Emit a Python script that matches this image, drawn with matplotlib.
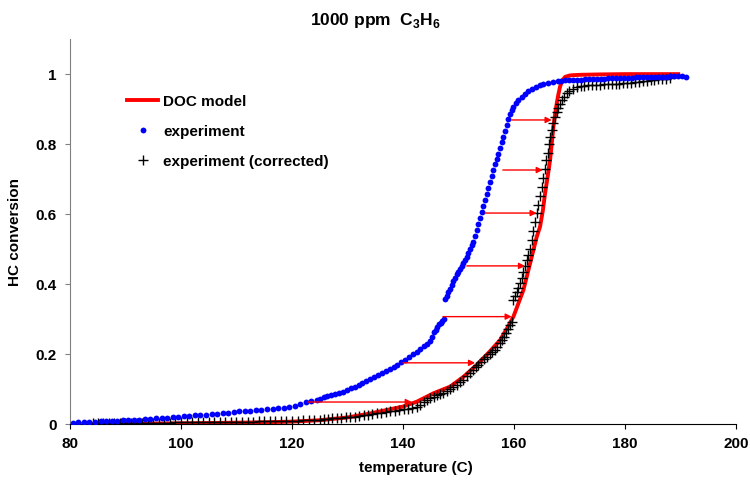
import matplotlib
matplotlib.use("Agg")
import matplotlib.pyplot as plt
from matplotlib.lines import Line2D

plt.rcParams['font.family'] = ['Liberation Sans', 'DejaVu Sans']
plt.rcParams['font.weight'] = 'bold'
plt.rcParams['mathtext.fontset'] = 'custom'
plt.rcParams['mathtext.rm'] = 'Liberation Sans:bold'
plt.rcParams['mathtext.bf'] = 'Liberation Sans:bold'

# DOC model
model_T = [80, 90, 100, 110, 115, 120, 125, 130, 134, 137, 140, 142.5, 145.5,
           148.5, 150.9, 153.3, 155.5, 157.5, 158.8, 159.9, 160.8, 161.7, 162.6,
           163.5, 164.1, 164.7, 165.2, 165.6, 166.1, 166.5, 166.8, 167.1, 167.4,
           167.7, 168.0, 168.3, 168.7, 169.2, 170.0, 170.7, 172, 175, 180, 185, 189.6]
model_x = [0.0, 0.001, 0.002, 0.004, 0.005, 0.007, 0.011, 0.019, 0.030, 0.040,
           0.050, 0.064, 0.088, 0.107, 0.135, 0.169, 0.205, 0.240, 0.275, 0.307,
           0.345, 0.383, 0.440, 0.497, 0.535, 0.564, 0.610, 0.659, 0.710, 0.754,
           0.800, 0.849, 0.885, 0.916, 0.942, 0.964, 0.982, 0.992, 0.996, 0.997,
           0.998, 0.999, 1.0, 1.0, 1.0]

# measured conversion
exp_T = [80.5, 81.5, 82.5, 83.5, 84.5, 85.5, 86.5, 87.5, 88.5, 89.5, 90.5, 91.5,
         92.5, 93.5, 94.5, 95.5, 96.5, 97.5, 98.5, 99.5, 100.5, 101.5, 102.5, 103.5,
         104.5, 105.5, 106.5, 107.5, 108.5, 109.5, 110.5, 111.5, 112.5, 113.5, 114.5,
         115.5, 116.5, 117.5, 118.5, 119.5, 120.5, 121.5, 122.5, 123.5, 124.5,
         125.0, 125.7, 126.4, 127.1, 127.8, 128.5, 129.2, 129.9, 130.6, 131.3, 132.0,
         132.7, 133.4, 134.1, 134.8, 135.5, 136.2, 136.9, 137.6, 138.3, 139.0, 139.7,
         140.4, 141.1, 141.8, 142.5, 143.1, 143.7, 144.3, 144.9, 145.3, 145.6, 145.9,
         146.2, 146.5, 146.8, 147.1, 147.4,
         147.6, 147.9, 148.2, 148.5, 148.8, 149.1, 149.4, 149.7, 150.0, 150.3, 150.6,
         150.9, 151.2, 151.5, 151.8, 152.1, 152.4, 152.7, 153.0, 153.3, 153.6, 153.9,
         154.2, 154.5, 154.8, 155.1, 155.4, 155.7, 156.0, 156.3, 156.6, 156.9, 157.2,
         157.5, 157.8, 158.1, 158.4, 158.7, 159.0, 159.3, 159.6, 159.9, 160.3, 160.8,
         161.4, 162.0, 162.6, 163.2, 163.9, 164.6, 165.3, 166.2, 167.1, 168.0,
         168.5, 169.2, 170.0, 170.7, 171.4, 172.1, 172.8, 173.5, 174.2, 174.9, 175.6,
         176.3, 177.0, 177.7, 178.4, 179.1, 179.8, 180.5, 181.2, 181.9, 182.6, 183.3,
         184.0, 184.7, 185.4, 186.1, 186.8, 187.5, 188.2, 188.9, 189.6, 190.3, 191.0]
exp_x = [0.004, 0.005, 0.005, 0.006, 0.007, 0.008, 0.008, 0.009, 0.010, 0.011, 0.011,
         0.012, 0.013, 0.014, 0.015, 0.016, 0.017, 0.018, 0.019, 0.021, 0.022, 0.023,
         0.025, 0.026, 0.027, 0.029, 0.030, 0.031, 0.033, 0.034, 0.036, 0.037, 0.038,
         0.039, 0.041, 0.042, 0.044, 0.045, 0.047, 0.049, 0.052, 0.057, 0.062, 0.066,
         0.069,
         0.072, 0.076, 0.079, 0.082, 0.085, 0.088, 0.093, 0.097, 0.102, 0.107, 0.113,
         0.118, 0.124, 0.129, 0.135, 0.141, 0.146, 0.152, 0.158, 0.163, 0.170, 0.176,
         0.183, 0.192, 0.200, 0.207, 0.215, 0.222, 0.228, 0.236, 0.250, 0.262, 0.270,
         0.278, 0.285, 0.290, 0.295, 0.300,
         0.356, 0.366, 0.377, 0.387, 0.397, 0.408, 0.418, 0.428, 0.435, 0.442, 0.452,
         0.461, 0.469, 0.478, 0.490, 0.500, 0.511, 0.521, 0.538, 0.555, 0.572, 0.588,
         0.605, 0.622, 0.640, 0.658, 0.676, 0.692, 0.710, 0.726, 0.742, 0.757, 0.773,
         0.789, 0.805, 0.821, 0.838, 0.856, 0.872, 0.887, 0.898, 0.907, 0.917, 0.926,
         0.935, 0.943, 0.951, 0.958, 0.964, 0.969, 0.973, 0.976, 0.978, 0.980,
         0.981, 0.982, 0.983, 0.983, 0.984, 0.984, 0.985, 0.985, 0.986, 0.986, 0.987,
         0.987, 0.988, 0.988, 0.989, 0.989, 0.990, 0.990, 0.990, 0.991, 0.991, 0.991,
         0.992, 0.992, 0.992, 0.993, 0.993, 0.993, 0.994, 0.994, 0.994, 0.994, 0.993]

# measured conversion, corrected temperature
cor_T = [84.2, 85, 86, 87, 88, 89, 90, 91, 92, 93, 94, 95, 96, 97, 98, 99, 100, 101,
         102, 103, 104, 105, 106, 107, 108, 109, 110, 111, 112, 113, 114, 115, 116,
         117, 118, 119, 120, 121, 122, 123, 124, 125,
         125.7, 126.5, 127.3, 128.1, 128.9, 129.7, 130.5, 131.3, 132.1, 132.9, 133.7,
         134.5, 135.3, 136.1, 136.9, 137.7, 138.5, 139.3, 140.1, 140.9, 141.7, 142.5,
         143.1, 143.7, 144.3, 144.9, 145.5, 146.1, 146.7, 147.3, 147.9, 148.5, 149.1,
         149.7, 150.3, 150.9, 151.5, 152.1, 152.6, 153.1, 153.6, 154.1, 154.6, 155.1,
         155.6, 156.1, 156.6, 157.0, 157.4, 157.8, 158.2, 158.6, 159.0, 159.3, 159.6,
         159.9, 160.2, 160.5, 160.8, 161.1, 161.4, 161.7, 162.0, 162.3, 162.6, 162.9,
         163.2, 163.5, 163.8, 164.1, 164.4, 164.7, 165.0, 165.3, 165.6, 165.8, 166.1,
         166.3, 166.5, 166.8, 167.1, 167.4, 167.7, 168.0, 168.3, 168.7, 169.1, 169.5,
         170.0, 170.6, 171.3,
         172, 172.7, 173.4, 174.1, 174.8, 175.5, 176.2, 176.9, 177.6, 178.3, 179.0,
         179.7, 180.4, 181.1, 181.8, 182.5, 183.2, 183.9, 184.6, 185.3, 186.0, 186.7,
         187.4, 188.1]
cor_x = [0.003, 0.003, 0.003, 0.003, 0.003, 0.003, 0.003, 0.003, 0.004, 0.004, 0.004,
         0.004, 0.004, 0.004, 0.004, 0.005, 0.005, 0.005, 0.005, 0.005, 0.005, 0.006,
         0.006, 0.006, 0.006, 0.006, 0.007, 0.007, 0.007, 0.007, 0.008, 0.008, 0.008,
         0.009, 0.009, 0.009, 0.010, 0.010, 0.011, 0.011, 0.012, 0.013,
         0.014, 0.015, 0.016, 0.017, 0.018, 0.019, 0.020, 0.021, 0.023, 0.025, 0.027,
         0.029, 0.031, 0.033, 0.035, 0.036, 0.038, 0.040, 0.042, 0.044, 0.046, 0.050,
         0.055, 0.062, 0.069, 0.074, 0.078, 0.082, 0.085, 0.088, 0.094, 0.100, 0.106,
         0.111, 0.119, 0.127, 0.136, 0.145, 0.154, 0.162, 0.169, 0.177, 0.186, 0.193,
         0.200, 0.206, 0.212, 0.220, 0.231, 0.241, 0.250, 0.259, 0.272, 0.283, 0.292,
         0.354, 0.366, 0.378, 0.390, 0.402, 0.418, 0.435, 0.452, 0.469, 0.484, 0.500,
         0.526, 0.551, 0.577, 0.602, 0.627, 0.652, 0.678, 0.703, 0.729, 0.754, 0.776,
         0.799, 0.821, 0.840, 0.859, 0.878, 0.891, 0.904, 0.916, 0.926, 0.936, 0.945,
         0.952, 0.958, 0.964,
         0.966, 0.967, 0.968, 0.969, 0.969, 0.970, 0.971, 0.971, 0.972, 0.973, 0.973,
         0.974, 0.975, 0.976, 0.977, 0.978, 0.979, 0.981, 0.982, 0.983, 0.985, 0.986,
         0.987, 0.988]

# temperature shift arrows (conversion level, from, to)
arrow_x = [0.063, 0.175, 0.307, 0.452, 0.603, 0.726, 0.869]
arrow_from = [122.9, 140.0, 147.2, 151.5, 154.8, 158.0, 159.6]
arrow_to = [141.6, 153.0, 159.6, 162.0, 164.1, 165.2, 166.8]

fig = plt.figure(figsize=(7.5, 4.83), dpi=100)
ax = fig.add_axes([0.0933, 0.122, 0.888, 0.797])

ax.plot(model_T, model_x, color='red', lw=2.8, zorder=2)
ax.plot(cor_T, cor_x, ls='none', marker='+', ms=7, mew=1.0, color='black', zorder=3)
ax.plot(exp_T, exp_x, ls='none', marker='o', ms=4.2, mew=0, color='#0000ff', zorder=4)

for v, t0, t1 in zip(arrow_x, arrow_from, arrow_to):
    ax.annotate('', xy=(t1, v), xytext=(t0, v),
                arrowprops=dict(arrowstyle='-|>', color='red', lw=1.0,
                                mutation_scale=9, shrinkA=0, shrinkB=0),
                zorder=5)

ax.set_xlim(80, 200)
ax.set_ylim(0, 1.1)
ax.set_xticks([80, 100, 120, 140, 160, 180, 200])
ax.set_yticks([0, 0.2, 0.4, 0.6, 0.8, 1])
ax.set_yticklabels(['0', '0.2', '0.4', '0.6', '0.8', '1'])
ax.spines['top'].set_visible(False)
ax.spines['right'].set_visible(False)
ax.spines['left'].set_color('#808080')
ax.tick_params(axis='both', direction='out', length=3.5, labelsize=11, pad=6)
ax.tick_params(axis='y', color='#808080')
for lab in ax.get_xticklabels() + ax.get_yticklabels():
    lab.set_fontweight('bold')

ax.set_xlabel('temperature (C)', fontsize=11, fontweight='bold')
ax.xaxis.set_label_coords(0.52, -0.095)
ax.set_ylabel('HC conversion', fontsize=11, fontweight='bold', labelpad=10)
fig.text(0.5, 0.958, r'1000 ppm  C$_{3}$H$_{6}$', fontsize=12.5, fontweight='bold',
         ha='center', va='center')

handles = [Line2D([], [], color='red', lw=2.8),
           Line2D([], [], ls='none', marker='o', ms=4.2, mew=0, color='#0000ff'),
           Line2D([], [], ls='none', marker='+', ms=7, mew=1.0, color='black')]
labels = ['DOC model', 'experiment', 'experiment (corrected)']
ax.legend(handles, labels, loc='upper left', bbox_to_anchor=(0.077, 0.872),
          frameon=False, handlelength=2.0, handletextpad=0.35,
          labelspacing=1.05, borderaxespad=0, prop={'weight': 'bold', 'size': 11})

fig.savefig('out.png', dpi=100)
